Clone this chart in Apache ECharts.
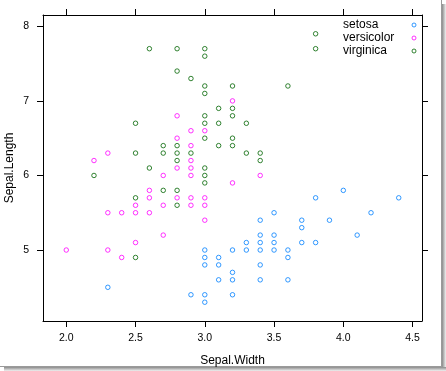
<!DOCTYPE html>
<html>
<head>
<meta charset="utf-8">
<script src="https://cdn.jsdelivr.net/npm/echarts@6/dist/echarts.min.js"></script>
<style>
html,body{margin:0;padding:0;background:#fff;}
#chart{width:446px;height:371px;}
</style>
</head>
<body>
<div id="chart"></div>
<script>
// Sepal.Width (x) and Sepal.Length (y) per species, as plotted
const setosaWidth = [3.5,3.0,3.2,3.1,3.6,3.9,3.4,3.4,2.9,3.1,3.7,3.4,3.0,3.0,4.0,4.4,3.9,3.5,3.8,3.8,3.4,3.7,3.6,3.3,3.4,3.0,3.4,3.5,3.4,3.2,3.1,3.4,4.1,4.2,3.1,3.2,3.5,3.6,3.0,3.4,3.5,2.3,3.2,3.5,3.8,3.0,3.8,3.2,3.7,3.3];
const setosaLength = [5.1,4.9,4.7,4.6,5.0,5.4,4.6,5.0,4.4,4.9,5.4,4.8,4.8,4.3,5.8,5.7,5.4,5.1,5.7,5.1,5.4,5.1,4.6,5.1,4.8,5.0,5.0,5.2,5.2,4.7,4.8,5.4,5.2,5.5,4.9,5.0,5.5,4.9,4.4,5.1,5.0,4.5,4.4,5.0,5.1,4.8,5.1,4.6,5.3,5.0];
const versicolorWidth = [3.2,3.2,3.1,2.3,2.8,2.8,3.3,2.4,2.9,2.7,2.0,3.0,2.2,2.9,2.9,3.1,3.0,2.7,2.2,2.5,3.2,2.8,2.5,2.8,2.9,3.0,2.8,3.0,2.9,2.6,2.4,2.4,2.7,2.7,3.0,3.4,3.1,2.3,3.0,2.5,2.6,3.0,2.6,2.3,2.7,3.0,2.9,2.9,2.5,2.8];
const versicolorLength = [7.0,6.4,6.9,5.5,6.5,5.7,6.3,4.9,6.6,5.2,5.0,5.9,6.0,6.1,5.6,6.7,5.6,5.8,6.2,5.6,5.9,6.1,6.3,6.1,6.4,6.6,6.8,6.7,6.0,5.7,5.5,5.5,5.8,6.0,5.4,6.0,6.7,6.3,5.6,5.5,5.5,6.1,5.8,5.0,5.6,5.7,5.7,6.2,5.1,5.7];
const virginicaWidth = [3.3,2.7,3.0,2.9,3.0,3.0,2.5,2.9,2.5,3.6,3.2,2.7,3.0,2.5,2.8,3.2,3.0,3.8,2.6,2.2,3.2,2.8,2.8,2.7,3.3,3.2,2.8,3.0,2.8,3.0,2.8,3.8,2.8,2.8,2.6,3.0,3.4,3.1,3.0,3.1,3.1,3.1,2.7,3.2,3.3,3.0,2.5,3.0,3.4,3.0];
const virginicaLength = [6.3,5.8,7.1,6.3,6.5,7.6,4.9,7.3,6.7,7.2,6.5,6.4,6.8,5.7,5.8,6.4,6.5,7.7,7.7,6.0,6.9,5.6,7.7,6.3,6.7,7.2,6.2,6.1,6.4,7.2,7.4,7.9,6.4,6.3,6.1,7.7,6.3,6.4,6.0,6.9,6.7,6.9,5.8,6.8,6.7,6.7,6.3,6.5,6.2,5.9];

const speciesNames = ['setosa','versicolor','virginica'];
const xTicks = [2.0,2.5,3.0,3.5,4.0,4.5];
const yTicks = [5,6,7,8];
const xRange = [1.832, 4.568];
const yRange = [4.048, 8.152];

const colors = ['#0080ff','#ff00ff','#006400'];
const FONT = 'Arial, "Liberation Sans", sans-serif';

function zip(xs, ys){ return xs.map((x,i)=>[x, ys[i]]); }
const rawGroups = [
  zip(setosaWidth, setosaLength),
  zip(versicolorWidth, versicolorLength),
  zip(virginicaWidth, virginicaLength)
];
// Points at identical positions are drawn only once (the last-drawn group wins),
// so overlapping open circles don't blend into darker marks.
const seen = new Set();
const groups = rawGroups.slice().reverse().map(g => g.filter(p => {
  const k = p[0].toFixed(1)+','+p[1].toFixed(1);
  if (seen.has(k)) return false;
  seen.add(k); return true;
})).reverse();

const chart = echarts.init(document.getElementById('chart'), null, {renderer:'canvas'});

const black = {color:'#000', width:1};
function axisCommon(showLabels, ticks, fmt, margin){
  return {
    type:'value',
    axisLine:{show:true, onZero:false, lineStyle:black},
    axisTick:{show:true, inside:false, length:6, customValues:ticks, lineStyle:black},
    axisLabel:{show:showLabels, customValues:ticks, formatter:fmt, fontSize:10.5, color:'#000', fontFamily:FONT, margin:margin},
    splitLine:{show:false}
  };
}

const option = {
  animation:false,
  backgroundColor:'#fff',
  textStyle:{fontFamily:FONT},
  grid:{left:43, right:24, top:15, bottom:50, containLabel:false, outerBoundsMode:'none'},
  xAxis:[
    Object.assign(axisCommon(true, xTicks, v=>v.toFixed(1), 12), {
      position:'bottom', min:xRange[0], max:xRange[1],
      name:'Sepal.Width', nameLocation:'middle', nameGap:34, nameMoveOverlap:false,
      nameTextStyle:{fontSize:12, color:'#000', fontFamily:FONT}
    }),
    Object.assign(axisCommon(false, xTicks, v=>v.toFixed(1), 8), {
      position:'top', min:xRange[0], max:xRange[1]
    })
  ],
  yAxis:[
    Object.assign(axisCommon(true, yTicks, v=>String(v), 14), {
      position:'left', min:yRange[0], max:yRange[1],
      name:'Sepal.Length', nameLocation:'middle', nameGap:27, nameRotate:90, nameMoveOverlap:false,
      nameTextStyle:{fontSize:12, color:'#000', fontFamily:FONT}
    }),
    Object.assign(axisCommon(false, yTicks, v=>String(v), 8), {
      position:'right', min:yRange[0], max:yRange[1]
    })
  ],
  legend:{
    orient:'vertical', left:338, top:14, align:'right',
    itemWidth:4, itemHeight:4, itemGap:1,
    selectedMode:false,
    formatter:n=>'{t|'+n+'}',
    textStyle:{fontSize:12, color:'#000', fontFamily:FONT,
      rich:{t:{width:64, align:'left', fontSize:12, color:'#000', fontFamily:FONT}}},
    data:speciesNames.map((n,i)=>({name:n, icon:'circle',
      itemStyle:{color:'rgba(0,0,0,0)', borderColor:colors[i], borderWidth:1}}))
  },
  series:speciesNames.map((n,i)=>({
    name:n, type:'scatter', xAxisIndex:0, yAxisIndex:0,
    symbol:'circle', symbolSize:4.5,
    itemStyle:{color:'rgba(0,0,0,0)', borderColor:colors[i], borderWidth:1},
    emphasis:{disabled:true},
    data:groups[i]
  })),
  graphic:[
    {type:'rect', silent:true, shape:{x:442, y:4, width:4, height:367},
      style:{fill:new echarts.graphic.LinearGradient(0,0,1,0,[{offset:0,color:'#8a8a8a'},{offset:1,color:'#f0f0f0'}])}},
    {type:'rect', silent:true, shape:{x:4, y:367, width:442, height:4},
      style:{fill:new echarts.graphic.LinearGradient(0,0,0,1,[{offset:0,color:'#8a8a8a'},{offset:1,color:'#f0f0f0'}])}},
    {type:'line', silent:true, shape:{x1:0, y1:366.5, x2:442, y2:366.5}, style:{stroke:'#9a9a9a', lineWidth:1}},
    {type:'line', silent:true, shape:{x1:441.5, y1:0, x2:441.5, y2:367}, style:{stroke:'#9a9a9a', lineWidth:1}}
  ]
};
chart.setOption(option);
</script>
</body>
</html>
